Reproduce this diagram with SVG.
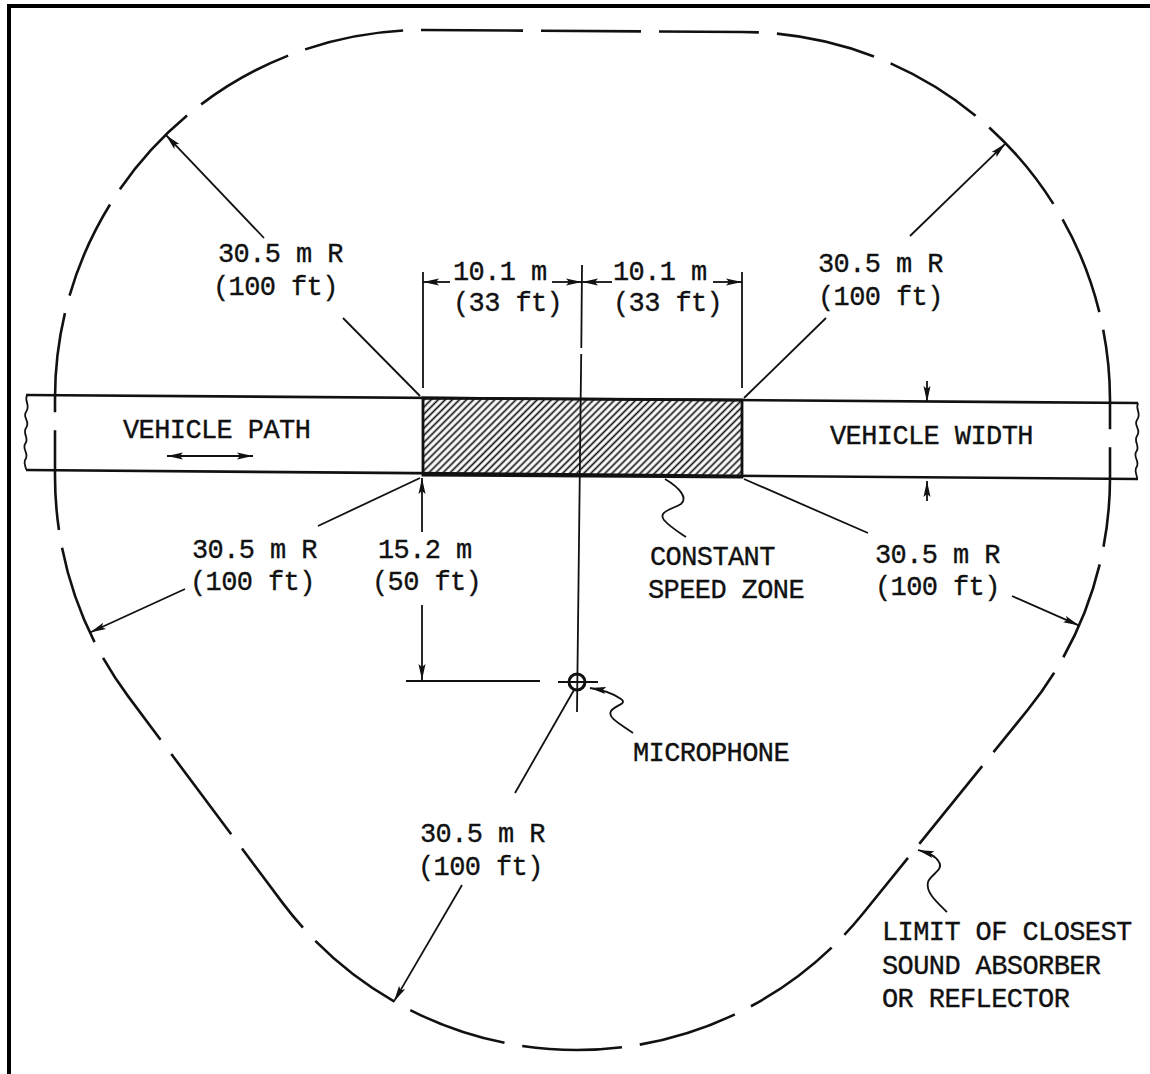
<svg xmlns="http://www.w3.org/2000/svg" width="1150" height="1074" viewBox="0 0 1150 1074">
<style>
  .t { font-family: "Liberation Mono", "Courier New", monospace; font-size: 27px; letter-spacing: -0.6px; fill: #111; stroke: #111; stroke-width: 0.35; }
  .ln { stroke: #111; stroke-width: 1.8; fill: none; }
  .edge { stroke: #111; stroke-width: 2.6; fill: none; }
  .arr { stroke: #111; stroke-width: 1.8; fill: none; marker-end: url(#ah); }
  .bound { stroke: #111; stroke-width: 2.6; fill: none; stroke-dasharray: 100 18; }
</style>
<defs>
  <marker id="ah" viewBox="0 0 16 8" refX="16" refY="4" markerWidth="16" markerHeight="8" markerUnits="userSpaceOnUse" orient="auto-start-reverse">
    <path d="M0,0.5 L16,4 L0,7.5 L3,4 z" fill="#111"/>
  </marker>
  <pattern id="hatch" patternUnits="userSpaceOnUse" width="5" height="10" patternTransform="rotate(45)">
    <line x1="2.5" y1="0" x2="2.5" y2="10" stroke="#111" stroke-width="1.7"/>
  </pattern>
</defs>
<rect width="1150" height="1074" fill="#fff"/>
<g id="frame">
  <rect x="7" y="4" width="1143" height="4" fill="#000"/>
  <rect x="7" y="4" width="4" height="1070" fill="#000"/>
</g>
<g id="boundary">
  <path class="bound" d="M423,30 L742,32 A368,368 0 0 1 1110,400 L1110,478 A368,368 0 0 1 1028,709.5 L863,913.5 A368,368 0 0 1 282.2,902.4 L128.2,696.4 A368,368 0 0 1 55,476 L55,398 A368,368 0 0 1 423,30 Z"/>
</g>
<g id="road">
  <line class="edge" x1="26" y1="395" x2="1138" y2="403"/>
  <line class="edge" x1="26" y1="470" x2="1138" y2="479"/>
  <path class="ln" d="M27,395 C24,402 31,405 26,412 C22,418 31,421 26,428 C22,434 30,438 25,444 C22,450 30,454 25,460 C23,465 27,468 26,470"/>
  <path class="ln" d="M1138,403 C1135,410 1142,413 1137,420 C1133,426 1142,429 1137,436 C1133,442 1141,446 1136,452 C1133,458 1141,462 1136,468 C1134,473 1138,476 1137,479"/>
</g>
<g id="constant-speed-zone">
  <polygon points="423,398 742,400 742,477 423,475" fill="url(#hatch)" stroke="#111" stroke-width="2.8"/>
</g>
<g id="centerline">
  <line class="ln" x1="582" y1="265" x2="581.3" y2="348"/>
  <line class="ln" x1="581.2" y1="354" x2="577" y2="712"/>
</g>
<g id="microphone">
  <circle cx="577" cy="682" r="8" fill="none" stroke="#111" stroke-width="3"/>
  <line class="ln" x1="558" y1="682" x2="598" y2="682"/>
</g>
<g id="connectors">
  <line class="ln" x1="423" y1="272" x2="423" y2="388"/>
  <line class="ln" x1="742" y1="272" x2="742" y2="388"/>
  <line class="arr" x1="450" y1="282" x2="423" y2="282"/>
  <line class="arr" x1="552" y1="282" x2="582" y2="282"/>
  <line class="arr" x1="612" y1="282" x2="582" y2="282"/>
  <line class="arr" x1="713" y1="282" x2="742" y2="282"/>
  <line class="arr" x1="264" y1="238" x2="165.8" y2="134.9"/>
  <line class="ln" x1="343" y1="318" x2="420" y2="396"/>
  <line class="arr" x1="910" y1="236" x2="1005.6" y2="143.4"/>
  <line class="ln" x1="744" y1="398" x2="826" y2="318"/>
  <line class="arr" x1="185" y1="589" x2="90" y2="632.5"/>
  <line class="ln" x1="420" y1="478" x2="318" y2="526"/>
  <line class="arr" x1="1012" y1="596" x2="1079.2" y2="625.6"/>
  <line class="ln" x1="744" y1="479" x2="868" y2="533"/>
  <line class="arr" x1="462" y1="885" x2="394" y2="1001.4"/>
  <line class="ln" x1="574" y1="690" x2="515" y2="793"/>
  <line class="arr" x1="422" y1="532" x2="422" y2="478"/>
  <line class="arr" x1="422" y1="605" x2="422" y2="680"/>
  <line class="ln" x1="406" y1="681" x2="540" y2="681"/>
  <line class="arr" x1="927" y1="381" x2="927" y2="402"/>
  <line class="arr" x1="927" y1="501" x2="927" y2="481"/>
  <line class="arr" stroke-width="2.4" x1="167" y1="456" x2="253" y2="456" style="marker-start:url(#ah)"/>
  <path class="ln" stroke-width="2.4" d="M665,479 C680,488 688,498 681,504 C670,510 658,512 664,520 C670,527 680,533 686,537"/>
  <path class="arr" stroke-width="2.4" d="M633,733 C622,725 607,718 611,711 C615,705 628,704 621,699 C613,693 603,690 590,688"/>
  <path class="arr" stroke-width="2.4" d="M947,912 C940,905 925,893 928,882 C931,874 944,870 939,862 C935,855 928,853 918,850"/>
</g>
<g id="labels">
  <text class="t" x="218" y="262">30.5 m R</text>
  <text class="t" x="213" y="295">(100 ft)</text>
  <text class="t" x="453" y="280">10.1 m</text>
  <text class="t" x="453" y="311">(33 ft)</text>
  <text class="t" x="613" y="280">10.1 m</text>
  <text class="t" x="613" y="311">(33 ft)</text>
  <text class="t" x="818" y="272">30.5 m R</text>
  <text class="t" x="818" y="305">(100 ft)</text>
  <text class="t" x="123" y="438">VEHICLE PATH</text>
  <text class="t" x="830" y="444">VEHICLE WIDTH</text>
  <text class="t" x="192" y="558">30.5 m R</text>
  <text class="t" x="190" y="590">(100 ft)</text>
  <text class="t" x="378" y="558">15.2 m</text>
  <text class="t" x="372" y="590">(50 ft)</text>
  <text class="t" x="650" y="565">CONSTANT</text>
  <text class="t" x="648" y="598">SPEED ZONE</text>
  <text class="t" x="875" y="563">30.5 m R</text>
  <text class="t" x="875" y="595">(100 ft)</text>
  <text class="t" x="633" y="761">MICROPHONE</text>
  <text class="t" x="420" y="842">30.5 m R</text>
  <text class="t" x="418" y="875">(100 ft)</text>
  <text class="t" x="882" y="940">LIMIT OF CLOSEST</text>
  <text class="t" x="882" y="974">SOUND ABSORBER</text>
  <text class="t" x="882" y="1007">OR REFLECTOR</text>
</g>
</svg>
